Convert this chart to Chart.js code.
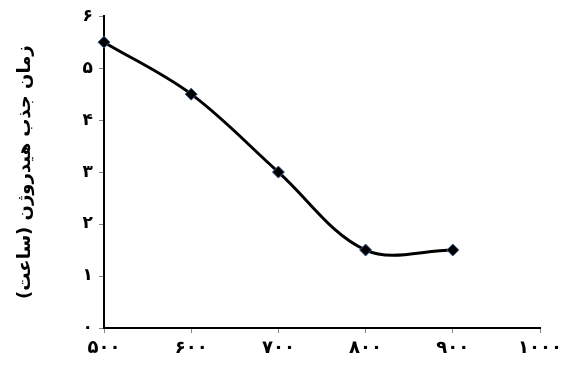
<!DOCTYPE html>
<html>
<head>
<meta charset="utf-8">
<script src="https://cdn.jsdelivr.net/npm/chart.js@4.4.1/dist/chart.umd.min.js"></script>
<style>
  html, body { margin: 0; padding: 0; background: #fff; }
  #wrap { width: 561px; height: 365px; position: relative; }
</style>
</head>
<body>
<div id="wrap"><canvas id="chart"></canvas></div>
<script>
// temperature (x) and hydrogen absorption time in hours (y)
const xValues = [500, 600, 700, 800, 900];
const yValues = [5.5, 4.5, 3.0, 1.5, 1.5];

const xTickLabels = ['۵۰۰', '۶۰۰', '۷۰۰', '۸۰۰', '۹۰۰', '۱۰۰۰'];
const yTickLabels = ['۰', '۱', '۲', '۳', '۴', '۵', '۶'];
const yTitle = 'زمان جذب هیدروژن (ساعت)';

const points = xValues.map((x, i) => ({ x: x, y: yValues[i] }));

new Chart(document.getElementById('chart'), {
  type: 'line',
  data: {
    datasets: [{
      data: points,
      borderColor: '#000',
      borderWidth: 3,
      tension: 0.35,
      pointStyle: 'rectRot',
      pointRadius: 6,
      pointBackgroundColor: '#000',
      pointBorderColor: '#3b5b8f',
      pointBorderWidth: 1,
      clip: false,
    }],
  },
  options: {
    responsive: true,
    maintainAspectRatio: false,
    animation: false,
    layout: { padding: { top: 16, right: 0, left: 0, bottom: 0 } },
    plugins: { legend: { display: false }, tooltip: { enabled: false } },
    scales: {
      x: {
        type: 'linear',
        min: 500,
        max: 1000,
        afterFit: (s) => { s.height = 37; s.paddingRight = 21; },
        ticks: {
          stepSize: 100,
          color: '#000',
          font: { family: 'DejaVu Sans', weight: 'bold', size: 18 },
          padding: 5,
          maxRotation: 0,
          callback: (v) => xTickLabels[(v - 500) / 100],
        },
        grid: { drawOnChartArea: false, tickLength: 5, color: '#888', lineWidth: 1 },
        border: { color: '#000', width: 2 },
      },
      y: {
        min: 0,
        max: 6,
        afterFit: (s) => { s.width = 104; },
        ticks: {
          stepSize: 1,
          color: '#000',
          font: { family: 'DejaVu Sans', weight: 'bold', size: 17 },
          padding: 6,
          callback: (v) => yTickLabels[v],
        },
        grid: { drawOnChartArea: false, tickLength: 5, color: '#888', lineWidth: 1 },
        border: { color: '#000', width: 2 },
        title: {
          display: true,
          text: '\u202B' + yTitle + '\u202C',
          color: '#000',
          font: { family: 'DejaVu Sans', weight: 'bold', size: 18 },
          padding: { top: 15, bottom: 0 },
        },
      },
    },
  },
});
</script>
</body>
</html>
